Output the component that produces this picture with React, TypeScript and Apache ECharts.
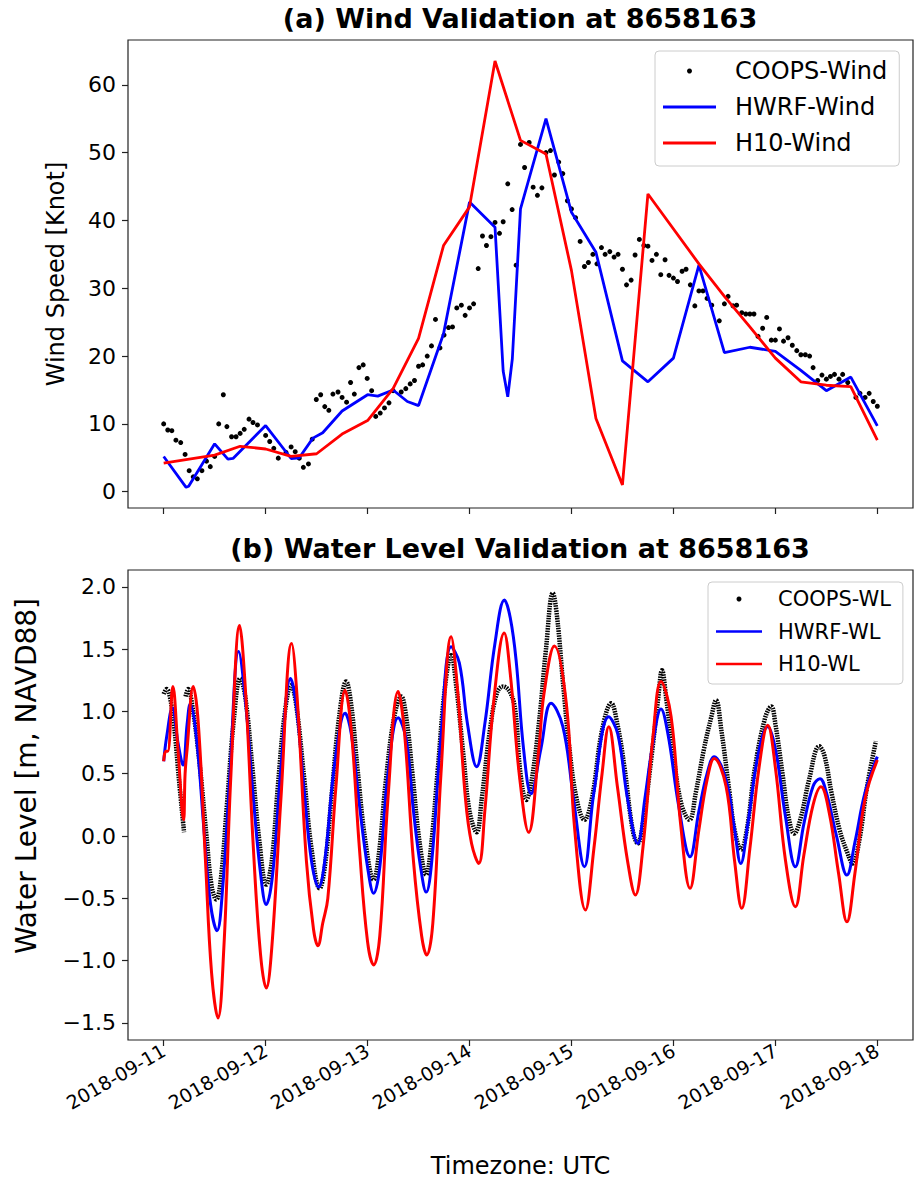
import React, { useEffect, useRef } from 'react';
import * as echarts from 'echarts';

// x values are days after 2018-09-11 00:00 UTC
const DATE_LABELS = ['2018-09-11', '2018-09-12', '2018-09-13', '2018-09-14', '2018-09-15', '2018-09-16', '2018-09-17', '2018-09-18'];
const TICK_DAYS = [0, 1, 2, 3, 4, 5, 6, 7];
const WIND_TICKS = [0, 10, 20, 30, 40, 50, 60];
const WL_TICKS = [-1.5, -1.0, -0.5, 0.0, 0.5, 1.0, 1.5, 2.0];

const COOPS_WIND = [
  [0.00, 10.0], [0.04, 9.1], [0.08, 9.0], [0.12, 7.6], [0.167, 7.25], [0.21, 5.5], [0.25, 3.1], [0.29, 2.2], [0.33, 1.9], [0.375, 3.1],
  [0.42, 4.5], [0.457, 3.7], [0.50, 5.2], [0.54, 10.0], [0.585, 14.3], [0.62, 9.6], [0.666, 8.1], [0.71, 8.1], [0.75, 8.6], [0.79, 9.2],
  [0.837, 10.7], [0.876, 10.2], [0.92, 9.85], [1.0, 8.3], [1.04, 7.4], [1.08, 6.4], [1.124, 4.95], [1.2, 5.8], [1.25, 6.6], [1.29, 5.9],
  [1.33, 4.95], [1.37, 3.6], [1.42, 4.1], [1.457, 7.75], [1.497, 13.6], [1.54, 14.3], [1.58, 12.55], [1.62, 12.0], [1.66, 14.4], [1.71, 14.7],
  [1.75, 13.9], [1.794, 13.2], [1.833, 16.1], [1.87, 14.4], [1.915, 18.3], [1.957, 18.7], [1.996, 16.7], [2.04, 14.9], [2.08, 11.1], [2.124, 11.6],
  [2.166, 12.35], [2.21, 13.1], [2.25, 14.9], [2.33, 14.7], [2.375, 15.2], [2.418, 15.9], [2.46, 16.4], [2.5, 18.5], [2.54, 18.7], [2.585, 20.0],
  [2.627, 21.5], [2.666, 25.4], [2.71, 21.2], [2.75, 23.1], [2.794, 24.2], [2.833, 24.3], [2.875, 27.1], [2.92, 27.5], [2.957, 26.0], [3.0, 27.1],
  [3.04, 27.7], [3.085, 32.9], [3.127, 37.7], [3.166, 36.3], [3.21, 37.6], [3.25, 39.7], [3.294, 38.1], [3.33, 39.8], [3.375, 45.4], [3.418, 41.6],
  [3.457, 33.4], [3.5, 51.2], [3.54, 47.8], [3.585, 51.5], [3.624, 44.9], [3.666, 43.7], [3.71, 44.8], [3.75, 50.0], [3.794, 50.3], [3.833, 46.7],
  [3.875, 48.6], [3.915, 46.9], [3.96, 42.9], [4.0, 41.7], [4.04, 40.4], [4.085, 36.9], [4.127, 33.2], [4.166, 33.8], [4.21, 35.0], [4.25, 33.6],
  [4.294, 36.0], [4.33, 35.0], [4.376, 35.4], [4.418, 34.6], [4.457, 35.0], [4.5, 32.8], [4.54, 30.5], [4.585, 31.2], [4.624, 34.9], [4.666, 37.2],
  [4.71, 36.3], [4.75, 36.2], [4.79, 34.1], [4.833, 35.0], [4.876, 32.0], [4.918, 34.2], [4.957, 31.9], [5.0, 31.5], [5.04, 31.0], [5.085, 32.5],
  [5.124, 32.8], [5.166, 30.5], [5.21, 27.4], [5.25, 29.6], [5.29, 29.6], [5.33, 28.5], [5.376, 27.5], [5.45, 25.2], [5.5, 27.7], [5.536, 28.8],
  [5.585, 27.4], [5.62, 27.5], [5.67, 26.4], [5.71, 26.2], [5.75, 26.2], [5.79, 26.2], [5.83, 22.9], [5.875, 24.1], [5.915, 25.7], [5.96, 22.35],
  [6.0, 22.35], [6.04, 24.0], [6.08, 22.2], [6.124, 22.7], [6.166, 21.6], [6.21, 20.8], [6.25, 20.2], [6.294, 20.2], [6.336, 20.0], [6.37, 18.3],
  [6.415, 16.4], [6.457, 17.2], [6.5, 16.6], [6.54, 17.0], [6.58, 17.3], [6.624, 16.6], [6.66, 17.3], [6.71, 16.1], [6.79, 13.9], [6.83, 14.5],
  [6.88, 13.9], [6.92, 14.5], [6.96, 13.3], [7.0, 12.6],
];

const HWRF_WIND = [
  [0, 5.2], [0.22, 0.65], [0.245, 0.8], [0.5, 7.06], [0.63, 4.8], [0.68, 4.9], [1.0, 9.75], [1.25, 4.9], [1.33, 5.0], [1.464, 7.9],
  [1.56, 8.7], [1.75, 11.9], [2.0, 14.3], [2.1, 14.1], [2.25, 15.0], [2.39, 13.3], [2.5, 12.7], [2.745, 23.3], [3.0, 42.7], [3.25, 39.0],
  [3.33, 17.8], [3.375, 14.0], [3.42, 19.6], [3.5, 41.7], [3.75, 55.0], [4.0, 41.2], [4.24, 35.3], [4.5, 19.3], [4.75, 16.2], [5.0, 19.7],
  [5.25, 33.4], [5.5, 20.5], [5.75, 21.3], [6.0, 20.7], [6.25, 17.9], [6.5, 14.9], [6.74, 16.9], [7.0, 9.7],
];

const H10_WIND = [
  [0, 4.2], [0.5, 5.4], [0.75, 6.7], [1.0, 6.3], [1.25, 5.2], [1.5, 5.6], [1.75, 8.5], [2.0, 10.5], [2.25, 15.2], [2.5, 22.6],
  [2.745, 36.3], [3.0, 42.0], [3.25, 63.5], [3.5, 51.8], [3.75, 49.8], [4.0, 32.6], [4.24, 10.8], [4.5, 1.0], [4.75, 43.9], [5.25, 33.6],
  [5.5, 28.8], [5.75, 24.3], [6.0, 19.7], [6.25, 16.2], [6.5, 15.7], [6.74, 15.5], [7.0, 7.6],
];

const COOPS_WL = [
  [0.0, 1.14], [0.03, 1.18], [0.06, 1.12], [0.1, 0.9], [0.15, 0.45], [0.2, 0.03], [0.205, '-'], [0.215, 1.12], [0.24, 1.18], [0.28, 1.05],
  [0.35, 0.6], [0.42, 0.0], [0.47, -0.4], [0.516, -0.51], [0.56, -0.35], [0.62, 0.25], [0.69, 0.95], [0.75, 1.265], [0.8, 1.12], [0.87, 0.55],
  [0.94, -0.05], [1.006, -0.39], [1.06, -0.2], [1.12, 0.4], [1.19, 1.0], [1.25, 1.21], [1.3, 1.05], [1.38, 0.45], [1.45, -0.1], [1.53, -0.42],
  [1.58, -0.25], [1.65, 0.35], [1.72, 0.95], [1.79, 1.24], [1.84, 1.05], [1.9, 0.55], [1.98, -0.05], [2.06, -0.35], [2.11, -0.15], [2.18, 0.45],
  [2.26, 0.95], [2.33, 1.12], [2.38, 0.95], [2.44, 0.5], [2.51, -0.05], [2.575, -0.31], [2.62, -0.1], [2.69, 0.55], [2.76, 1.2], [2.82, 1.45],
  [2.87, 1.2], [2.94, 0.65], [3.0, 0.2], [3.07, 0.03], [3.12, 0.3], [3.2, 0.85], [3.27, 1.15], [3.33, 1.2], [3.4, 1.15], [3.45, 1.0],
  [3.5, 0.5], [3.556, 0.29], [3.6, 0.4], [3.68, 0.9], [3.75, 1.5], [3.817, 1.95], [3.86, 1.75], [3.92, 1.2], [3.98, 0.7], [4.05, 0.3],
  [4.127, 0.13], [4.2, 0.3], [4.3, 0.85], [4.39, 1.065], [4.45, 0.9], [4.52, 0.55], [4.6, 0.05], [4.65, -0.06], [4.7, 0.1], [4.78, 0.6],
  [4.85, 1.1], [4.888, 1.33], [4.93, 1.1], [5.0, 0.65], [5.08, 0.25], [5.157, 0.13], [5.22, 0.35], [5.3, 0.7], [5.37, 0.95], [5.418, 1.09],
  [5.47, 0.85], [5.55, 0.35], [5.6, 0.05], [5.664, -0.11], [5.72, 0.05], [5.8, 0.55], [5.9, 0.95], [5.96, 1.04], [6.0, 0.9], [6.07, 0.5],
  [6.13, 0.15], [6.185, 0.02], [6.25, 0.15], [6.33, 0.45], [6.43, 0.72], [6.48, 0.65], [6.55, 0.35], [6.63, 0.05], [6.7, -0.12], [6.758, -0.22],
  [6.82, -0.05], [6.9, 0.4], [6.986, 0.76],
];

const HWRF_WL = [
  [0.0, 0.6], [0.03, 0.8], [0.085, 1.03], [0.14, 0.75], [0.19, 0.57], [0.23, 0.9], [0.26, 1.06], [0.32, 0.8], [0.4, 0.0], [0.46, -0.55],
  [0.523, -0.76], [0.58, -0.4], [0.65, 0.5], [0.735, 1.48], [0.8, 1.1], [0.88, 0.3], [0.95, -0.3], [1.006, -0.55], [1.07, -0.3], [1.15, 0.55],
  [1.245, 1.265], [1.3, 1.05], [1.38, 0.35], [1.45, -0.2], [1.52, -0.41], [1.58, -0.2], [1.68, 0.6], [1.78, 0.985], [1.84, 0.82], [1.92, 0.25],
  [2.0, -0.25], [2.06, -0.46], [2.12, -0.25], [2.2, 0.5], [2.3, 0.95], [2.38, 0.77], [2.45, 0.2], [2.52, -0.25], [2.575, -0.45], [2.63, -0.2],
  [2.72, 0.8], [2.82, 1.52], [2.9, 1.39], [2.98, 0.9], [3.07, 0.556], [3.15, 0.9], [3.25, 1.55], [3.343, 1.894], [3.4, 1.75], [3.457, 1.41],
  [3.53, 0.7], [3.604, 0.34], [3.7, 0.7], [3.8, 1.065], [3.915, 0.88], [4.02, 0.3], [4.127, -0.246], [4.22, 0.35], [4.366, 0.958], [4.454, 0.82],
  [4.55, 0.3], [4.65, -0.06], [4.72, 0.3], [4.8, 0.75], [4.878, 1.02], [4.95, 0.8], [5.05, 0.25], [5.163, -0.166], [5.25, 0.2], [5.33, 0.5],
  [5.4, 0.637], [5.516, 0.45], [5.6, 0.05], [5.66, -0.22], [5.73, 0.1], [5.83, 0.65], [5.925, 0.877], [6.0, 0.7], [6.1, 0.15], [6.196, -0.246],
  [6.28, 0.1], [6.37, 0.4], [6.437, 0.46], [6.5, 0.35], [6.6, 0.0], [6.702, -0.313], [6.78, -0.05], [6.88, 0.35], [7.0, 0.637],
];

const H10_WL = [
  [0.0, 0.6], [0.02, 0.68], [0.04, 0.68], [0.09, 1.2], [0.14, 0.7], [0.195, 0.13], [0.21, 0.5], [0.23, 0.7], [0.29, 1.2], [0.34, 0.9],
  [0.41, -0.2], [0.47, -1.1], [0.533, -1.46], [0.59, -0.9], [0.66, 0.5], [0.745, 1.69], [0.8, 1.2], [0.88, -0.1], [0.95, -0.95], [1.006, -1.22],
  [1.06, -0.9], [1.15, 0.3], [1.255, 1.546], [1.31, 1.1], [1.4, -0.2], [1.47, -0.75], [1.513, -0.88], [1.56, -0.7], [1.61, -0.5], [1.69, 0.4],
  [1.78, 1.17], [1.84, 0.85], [1.92, -0.1], [2.0, -0.85], [2.06, -1.035], [2.12, -0.8], [2.2, 0.3], [2.3, 1.16], [2.36, 0.85], [2.45, -0.2],
  [2.53, -0.8], [2.58, -0.955], [2.64, -0.7], [2.72, 0.5], [2.82, 1.6], [2.88, 1.2], [2.96, 0.3], [3.02, -0.06], [3.09, -0.22], [3.15, 0.2],
  [3.24, 1.1], [3.34, 1.63], [3.4, 1.3], [3.49, 0.48], [3.58, 0.03], [3.68, 0.7], [3.73, 1.14], [3.833, 1.525], [3.95, 1.06], [4.03, 0.07],
  [4.137, -0.594], [4.22, -0.1], [4.3, 0.5], [4.366, 0.877], [4.45, 0.4], [4.55, -0.2], [4.627, -0.473], [4.7, -0.1], [4.8, 0.8], [4.878, 1.24],
  [4.977, 0.96], [5.07, 0.1], [5.163, -0.42], [5.25, 0.05], [5.33, 0.45], [5.4, 0.623], [5.516, 0.4], [5.6, -0.2], [5.67, -0.58], [5.75, -0.1],
  [5.84, 0.55], [5.925, 0.89], [6.0, 0.55], [6.1, -0.2], [6.196, -0.567], [6.28, -0.15], [6.37, 0.25], [6.447, 0.396], [6.53, 0.18], [6.62, -0.3],
  [6.702, -0.688], [6.78, -0.3], [6.88, 0.3], [7.0, 0.61],
];

const FONT = 'DejaVu Sans';
const AXIS_COLOR = '#222';
const LINE_ICON = 'path://M0,0L53,0L53,2.8L0,2.8Z';

function buildOption() {
  const fmtWL = (v: number) => v.toFixed(1).replace('-', '\u2212');
  const frame = { show: true, borderColor: AXIS_COLOR, borderWidth: 1.2, backgroundColor: 'transparent', outerBoundsMode: 'none', containLabel: false };
  const tick = { show: true, length: 6, inside: false, lineStyle: { color: AXIS_COLOR, width: 1.2 } };
  const axisLine = { show: false, onZero: false };
  const legendBase = {
    orient: 'vertical',
    selectedMode: false,
    borderColor: '#cccccc',
    borderWidth: 1,
    borderRadius: 4,
    backgroundColor: 'rgba(255,255,255,0.85)',
    itemHeight: 5,
  };
  return {
    animation: false,
    backgroundColor: '#ffffff',
    textStyle: { fontFamily: FONT },
    grid: [
      { left: 128, top: 40, width: 785, height: 468, ...frame },
      { left: 128, top: 570, width: 785, height: 470, ...frame },
    ],
    graphic: [
      { type: 'text', x: 520, y: 18, style: { text: '(a) Wind Validation at 8658163', font: `bold 27px "${FONT}"`, fill: '#000', textAlign: 'center', textVerticalAlign: 'middle' } },
      { type: 'text', x: 520, y: 548, style: { text: '(b) Water Level Validation at 8658163', font: `bold 27px "${FONT}"`, fill: '#000', textAlign: 'center', textVerticalAlign: 'middle' } },
    ],
    legend: [
      {
        ...legendBase,
        left: 655, top: 51,
        itemWidth: 53, itemGap: 10,
        padding: [7, 12, 10, 8],
        textStyle: { fontSize: 24, lineHeight: 26, color: '#000', fontFamily: FONT, padding: [0, 0, 0, 14] },
        data: [
          { name: 'COOPS-Wind', icon: 'circle' },
          { name: 'HWRF-Wind', icon: LINE_ICON },
          { name: 'H10-Wind', icon: LINE_ICON },
        ],
      },
      {
        ...legendBase,
        left: 708, top: 582,
        itemWidth: 46, itemGap: 8.5,
        padding: [5, 12, 8, 8],
        textStyle: { fontSize: 21, lineHeight: 24, color: '#000', fontFamily: FONT, padding: [0, 0, 0, 11] },
        data: [
          { name: 'COOPS-WL', icon: 'circle' },
          { name: 'HWRF-WL', icon: LINE_ICON },
          { name: 'H10-WL', icon: LINE_ICON },
        ],
      },
    ],
    xAxis: [
      {
        type: 'value', gridIndex: 0, min: -0.35, max: 7.35, position: 'bottom',
        axisLine, splitLine: { show: false },
        axisTick: { ...tick, customValues: TICK_DAYS },
        axisLabel: { show: false, customValues: TICK_DAYS },
      },
      {
        type: 'value', gridIndex: 1, min: -0.35, max: 7.35, position: 'bottom',
        axisLine, splitLine: { show: false },
        axisTick: { ...tick, customValues: TICK_DAYS },
        axisLabel: {
          customValues: TICK_DAYS, rotate: 30, fontSize: 19, color: '#000', margin: 9, fontFamily: FONT,
          formatter: (v: number) => DATE_LABELS[Math.round(v)] ?? '',
        },
        name: 'Timezone: UTC', nameLocation: 'middle', nameGap: 114,
        nameTextStyle: { fontSize: 24, color: '#000', fontFamily: FONT },
      },
    ],
    yAxis: [
      {
        type: 'value', gridIndex: 0, min: -2.4, max: 66.6, position: 'left',
        axisLine, splitLine: { show: false },
        axisTick: { ...tick, customValues: WIND_TICKS },
        axisLabel: { customValues: WIND_TICKS, fontSize: 22, color: '#000', margin: 12, fontFamily: FONT },
        name: 'Wind Speed [Knot]', nameLocation: 'middle', nameRotate: 90, nameGap: 60,
        nameTextStyle: { fontSize: 24, color: '#000', fontFamily: FONT },
      },
      {
        type: 'value', gridIndex: 1, min: -1.637, max: 2.135, position: 'left',
        axisLine, splitLine: { show: false },
        axisTick: { ...tick, customValues: WL_TICKS },
        axisLabel: { customValues: WL_TICKS, fontSize: 22, color: '#000', margin: 12, fontFamily: FONT, formatter: fmtWL },
        name: 'Water Level [m, NAVD88]', nameLocation: 'middle', nameRotate: 90, nameGap: 88,
        nameTextStyle: { fontSize: 28, color: '#000', fontFamily: FONT, padding: [0, 0, 0, 58] },
      },
    ],
    series: [
      {
        name: 'COOPS-Wind', type: 'scatter', xAxisIndex: 0, yAxisIndex: 0, data: COOPS_WIND,
        symbol: 'circle', symbolSize: 5, itemStyle: { color: '#000', opacity: 1 }, z: 2,
      },
      {
        name: 'HWRF-Wind', type: 'line', xAxisIndex: 0, yAxisIndex: 0, data: HWRF_WIND,
        showSymbol: false, symbol: 'none', lineStyle: { color: '#0000ff', width: 2.8 }, itemStyle: { color: '#0000ff' }, z: 3,
      },
      {
        name: 'H10-Wind', type: 'line', xAxisIndex: 0, yAxisIndex: 0, data: H10_WIND,
        showSymbol: false, symbol: 'none', lineStyle: { color: '#ff0000', width: 2.8 }, itemStyle: { color: '#ff0000' }, z: 4,
      },
      {
        name: 'COOPS-WL', type: 'line', xAxisIndex: 1, yAxisIndex: 1, data: COOPS_WL, smooth: 0.4,
        showSymbol: false, symbol: 'none', connectNulls: false,
        lineStyle: { color: '#000', width: 4.5, type: [1.5, 1] }, itemStyle: { color: '#000' }, z: 2,
      },
      {
        name: 'HWRF-WL', type: 'line', xAxisIndex: 1, yAxisIndex: 1, data: HWRF_WL, smooth: 0.4,
        showSymbol: false, symbol: 'none', lineStyle: { color: '#0000ff', width: 3 }, itemStyle: { color: '#0000ff' }, z: 3,
      },
      {
        name: 'H10-WL', type: 'line', xAxisIndex: 1, yAxisIndex: 1, data: H10_WL, smooth: 0.4,
        showSymbol: false, symbol: 'none', lineStyle: { color: '#ff0000', width: 3 }, itemStyle: { color: '#ff0000' }, z: 4,
      },
    ],
  };
}

export default function App() {
  const ref = useRef<HTMLDivElement>(null);
  useEffect(() => {
    if (!ref.current) return;
    const chart = echarts.init(ref.current, null, { renderer: 'svg' });
    chart.setOption(buildOption() as any);
    return () => chart.dispose();
  }, []);
  return <div ref={ref} style={{ position: 'absolute', left: 0, top: 0, width: 914, height: 1182 }} />;
}
